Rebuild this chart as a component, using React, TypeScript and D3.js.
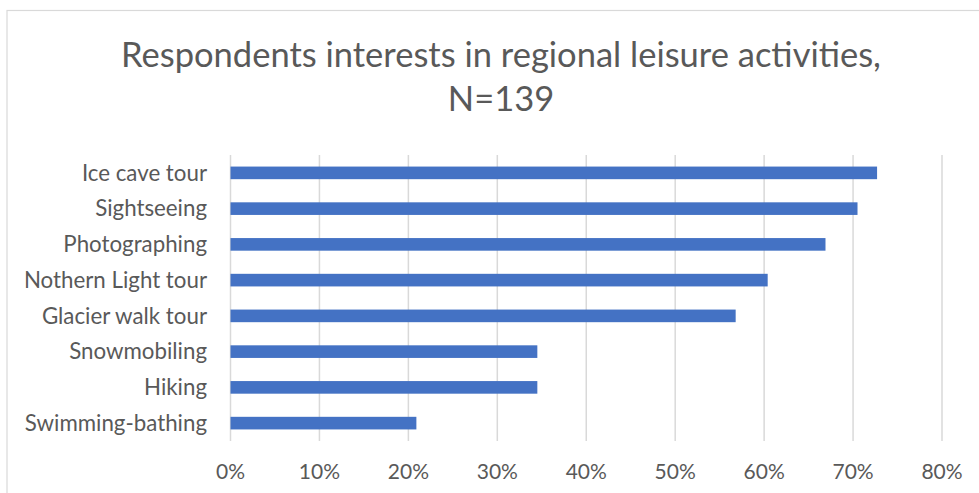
import React from "react";
import * as d3 from "d3";

const categories = [
  "Ice cave tour",
  "Sightseeing",
  "Photographing",
  "Nothern Light tour",
  "Glacier walk tour",
  "Snowmobiling",
  "Hiking",
  "Swimming-bathing",
];
const values = [0.727, 0.705, 0.669, 0.604, 0.568, 0.345, 0.345, 0.209];
const tickValues = [0, 0.1, 0.2, 0.3, 0.4, 0.5, 0.6, 0.7, 0.8];
const titleLines = ["Respondents interests in regional leisure activities,", "N=139"];

const FONT = "Lato, 'Open Sans', sans-serif";

export default function App() {
  const W = 979;
  const H = 493;
  const x = d3.scaleLinear().domain([0, 0.8]).range([230.5, 942]);
  const y = d3
    .scaleBand<string>()
    .domain(categories)
    .range([155, 441])
    .paddingInner(0.647)
    .paddingOuter(0.3235);
  const fmt = d3.format(".0%");
  return (
    <svg
      width={W}
      height={H}
      style={{ position: "absolute", left: 0, top: 0, background: "#fff" }}
    >
      <rect x={7} y={10.5} width={W + 10} height={H + 10} fill="#fff" stroke="#d9d9d9" strokeWidth={1.2} />
      {titleLines.map((t, i) => (
        <text
          key={t}
          x={501}
          y={67 + i * 43.5}
          textAnchor="middle"
          fontFamily={FONT}
          fontSize={34.5}
          fill="#595959"
        >
          {t}
        </text>
      ))}
      {tickValues.map((v) => (
        <g key={v}>
          <line x1={x(v)} x2={x(v)} y1={155} y2={441} stroke="#d9d9d9" strokeWidth={1.5} />
          <text
            x={x(v)}
            y={479}
            textAnchor="middle"
            fontFamily={FONT}
            fontSize={21}
            fill="#595959"
          >
            {fmt(v)}
          </text>
        </g>
      ))}
      {categories.map((c, i) => (
        <g key={c}>
          <rect
            x={x(0)}
            y={y(c)!}
            width={x(values[i]) - x(0)}
            height={y.bandwidth()}
            fill="#4472c4"
          />
          <text
            x={207}
            y={y(c)! + y.bandwidth() / 2}
            dy="0.35em"
            textAnchor="end"
            fontFamily={FONT}
            fontSize={22.3}
            fill="#595959"
          >
            {c}
          </text>
        </g>
      ))}
    </svg>
  );
}
